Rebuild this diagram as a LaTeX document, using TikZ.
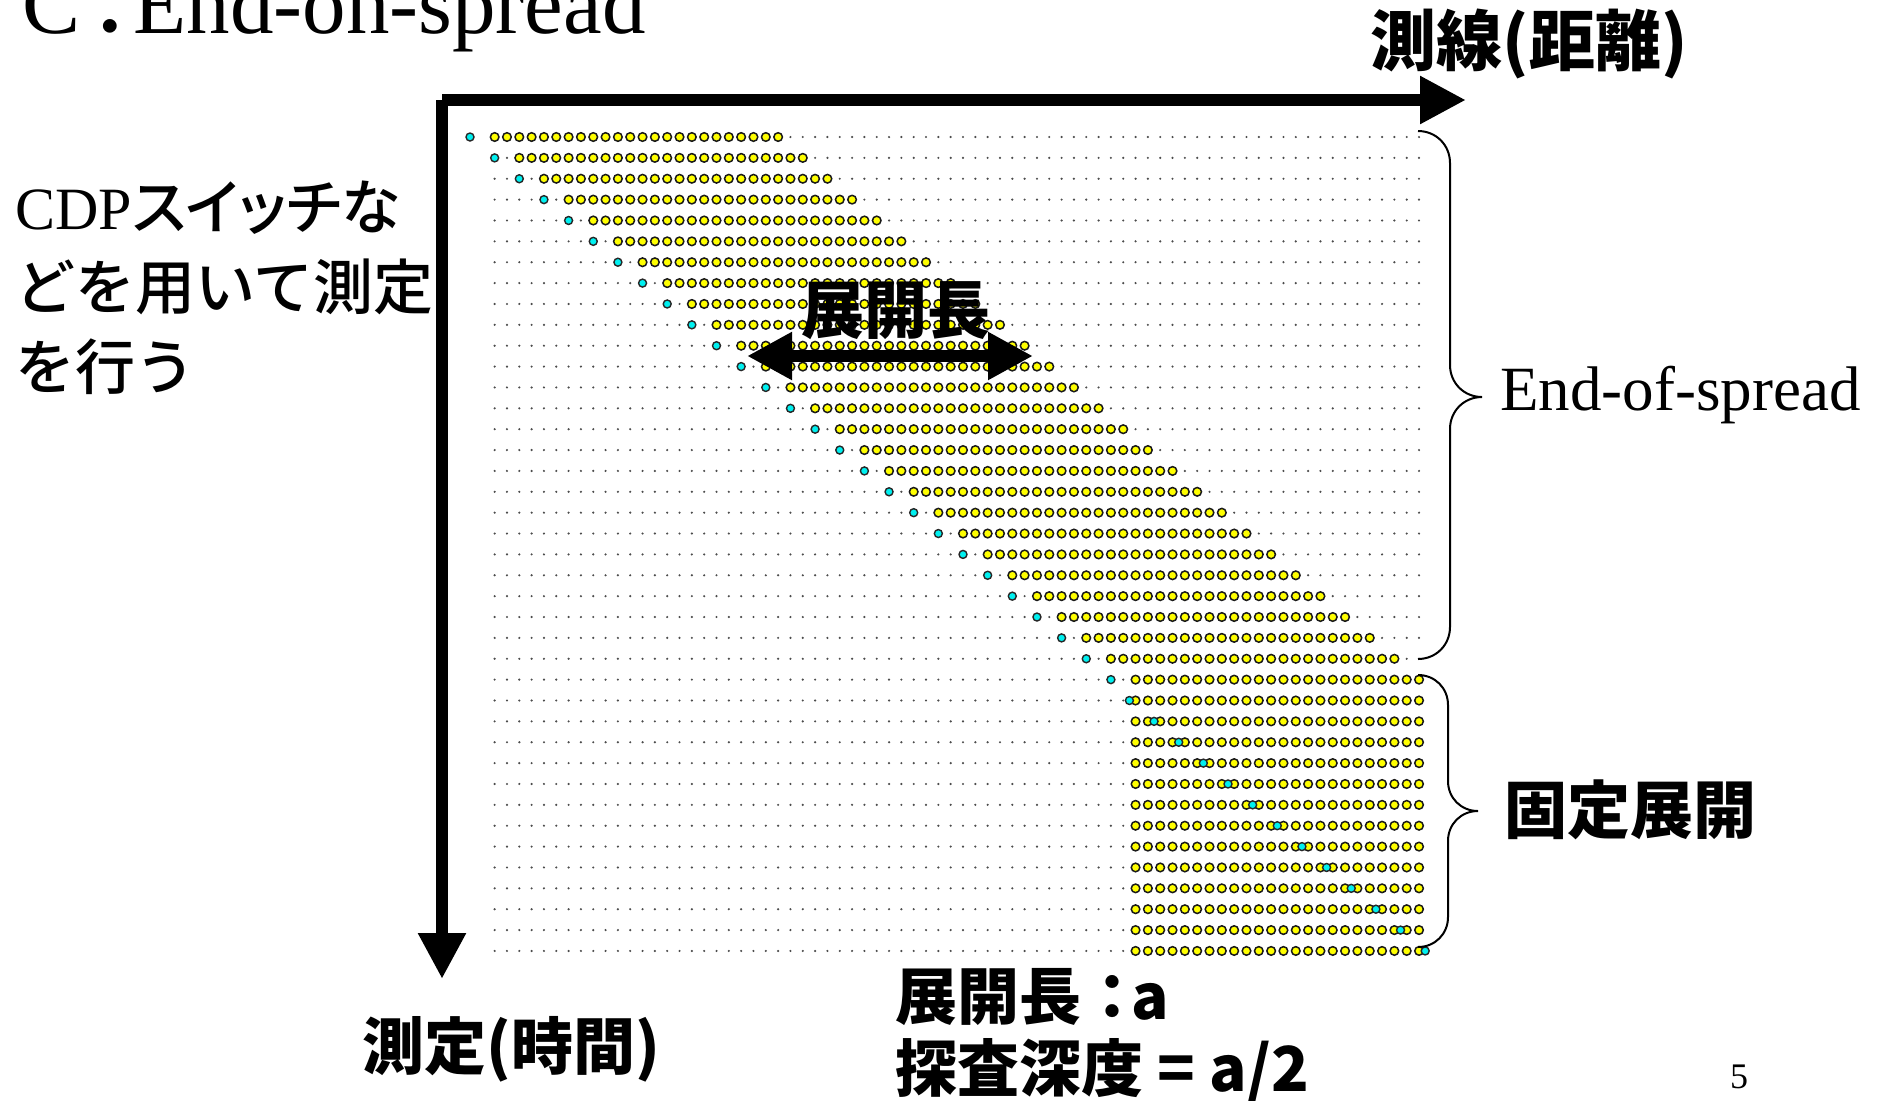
\documentclass[tikz,border=0pt]{standalone}
\usepackage{fontspec}
\setmainfont{Liberation Serif}
\newfontfamily\cjk{Noto Sans CJK JP}
\newfontfamily\cjkm{Noto Sans CJK JP Medium}
\newfontfamily\cjkmp{Noto Sans CJK JP Medium}[RawFeature=+palt]
\usetikzlibrary{arrows.meta}
\definecolor{dotyellow}{RGB}{255,255,0}
\definecolor{dotcyan}{RGB}{0,240,240}
\newcommand\fsz[1]{\fontsize{#1}{#1}\selectfont}
\begin{document}
\begin{tikzpicture}[x=0.5pt,y=-0.5pt,
  axisarrow/.style={line width=6pt,-{Triangle[length=23pt,width=22.5pt]}},
  spanarrow/.style={line width=6pt,{Triangle[length=22.5pt,width=22.5pt]}-{Triangle[length=22.5pt,width=22.5pt]}},
  smalldot/.style={fill=black!70},
  recv/.style={fill=dotyellow,draw=black!90,line width=0.75pt},
  shot/.style={fill=dotcyan,draw=black!85,line width=0.7pt},
  bracestyle/.style={line width=1pt,black},
  lab/.style={inner sep=0pt},
  jlab/.style={inner sep=0pt,font=\cjk\bfseries\fsz{31.5pt}}]
\path[use as bounding box] (0,0) rectangle (1890,1100);
\clip (0,0) rectangle (1890,1100);
% grid of dots
\foreach \r in {0,...,39}{
  \foreach \c in {2,...,77}{
    \fill[smalldot] (470+12.325*\c,137+20.87*\r) circle (0.6pt);
  }
}
% end-of-spread rows
\foreach \r in {0,...,26}{
  \pgfmathtruncatemacro\ca{2*\r+2}
  \pgfmathtruncatemacro\cb{2*\r+25}
  \foreach \c in {\ca,...,\cb}{
    \filldraw[recv] (470+12.325*\c,137+20.87*\r) circle (2.15pt);
  }
  \filldraw[shot] (470+12.325*2*\r,137+20.87*\r) circle (2pt);
}
% fixed spread rows
\foreach \r in {27,...,39}{
  \foreach \c in {54,...,77}{
    \filldraw[recv] (470+12.325*\c,137+20.87*\r) circle (2.15pt);
  }
  \filldraw[shot] (470+12.325*2*\r-6.16,137+20.87*\r) circle (2pt);
}
% axes
\coordinate (corner) at (442,100);
\coordinate (xtip) at (1466,100);
\coordinate (ytip) at (442,979);
\draw[axisarrow] (corner) -- (xtip);
\draw[axisarrow] (corner) -- (ytip);
% braces
\draw[bracestyle] (1418,131) .. controls (1436,131) and (1450,145) .. (1450,163)
  -- (1450,365) .. controls (1450,383) and (1464,397) .. (1482,397)
  .. controls (1464,397) and (1450,411) .. (1450,429)
  -- (1450,627) .. controls (1450,645) and (1436,659) .. (1418,659);
\draw[bracestyle] (1418,675) .. controls (1435,675) and (1448,688) .. (1448,705)
  -- (1448,781) .. controls (1448,798) and (1461,811) .. (1478,811)
  .. controls (1461,811) and (1448,824) .. (1448,841)
  -- (1448,917) .. controls (1448,934) and (1435,947) .. (1418,947);
% span arrow
\node[jlab] (spanlab) at (896,311) {展開長};
\coordinate (sl) at (747,356);
\coordinate (sr) at (1033,356);
\draw[spanarrow] (sl) -- (sr);
% texts
\node[lab,anchor=base west,font=\fsz{43.5pt}] (title) at (22,33) {C\kern4.5pt\makebox[22pt][l]{\cjk ．}End-on-spread};
\node[lab,font=\cjk\bfseries\fsz{33pt}] (xlab) at (1529,44) {測線(距離)};
\node[lab,anchor=west,align=left,font=\fontsize{30pt}{40pt}\selectfont] (note) at (15,288)
  {CDP{\cjkmp スイッチな}\\{\cjkm どを用いて測定}\\{\cjkm を行う}};
\node[lab,anchor=base west,font=\fsz{31.5pt}] (eos) at (1500,410) {End-of-spread};
\node[jlab] (fixed) at (1630,810) {固定展開};
\node[lab,font=\cjk\bfseries\fsz{31pt}] (ylab) at (511,1049) {測定(時間)};
\node[lab,anchor=west,align=left,font=\cjk\bfseries\fontsize{31pt}{36pt}\selectfont] (formula) at (895,1036)
  {展開長：\kern-6pt a\\探査深度 = a/2};
\node[lab,font=\fsz{18pt}] (page) at (1739,1077) {5};
\end{tikzpicture}
\end{document}
